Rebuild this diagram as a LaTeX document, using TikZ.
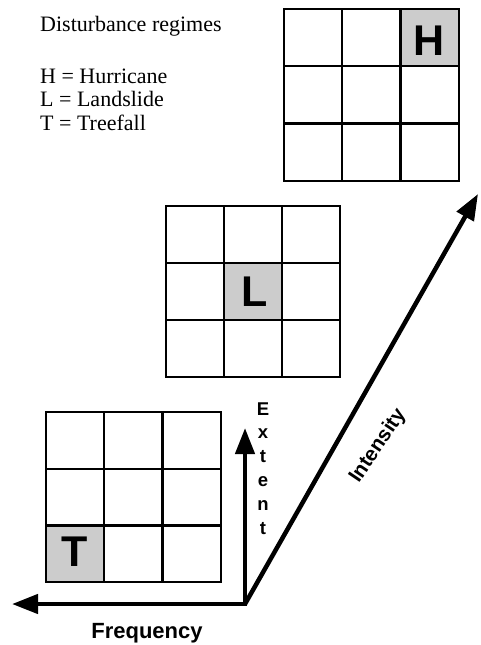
\documentclass[tikz,border=0pt]{standalone}
\usepackage{fontspec}
\setmainfont{Liberation Serif}
\newfontfamily\lsans{Liberation Sans}
\usetikzlibrary{arrows.meta}
\newcommand\dgridcells[4]{%
  \draw[gridline] (#1,#2) rectangle ({#1+3*#3},{#2+3*#4});
  \foreach \i in {1,2} {
    \draw[gridline] ({#1+\i*#3},#2) -- ({#1+\i*#3},{#2+3*#4});
    \draw[gridline] (#1,{#2+\i*#4}) -- ({#1+3*#3},{#2+\i*#4});
  }}
\begin{document}
\begin{tikzpicture}[x=1pt,y=-1pt,
  gridline/.style={line width=2.3pt},
  shadecell/.style={fill=black!20},
  cellletter/.style={font=\lsans\bfseries\fontsize{43}{43}\selectfont, inner sep=0},
  axis/.style={line width=4.5pt, -{Triangle[length=26pt,width=19pt]}},
  axislabel/.style={font=\lsans\bfseries\fontsize{22}{22}\selectfont, inner sep=0},
  extletter/.style={font=\lsans\bfseries\fontsize{18.5}{18.5}\selectfont, inner sep=0, anchor=base},
  legend/.style={font=\fontsize{22}{22}\selectfont, anchor=base west, inner sep=0}]
\useasboundingbox (0,0) rectangle (481,645);
% H grid
\fill[shadecell] (400.6,9) rectangle (459,66.3);
\dgridcells{284}{9}{58.3}{57.3}
\node[cellletter] (H) at (429,41) {H};
% L grid
\fill[shadecell] (224,263) rectangle (282,320);
\dgridcells{166}{206}{58}{57}
\node[cellletter] (L) at (254.5,292) {L};
% T grid
\fill[shadecell] (46,525.4) rectangle (104.3,582);
\dgridcells{46}{412}{58.3}{56.7}
\node[cellletter] (T) at (74.5,552) {T};
% axes
\coordinate (O) at (245,604);
\coordinate (F) at (12,604);
\coordinate (E) at (245,428);
\coordinate (I) at (478,194);
\draw[axis] (O) -- (F);
\draw[axis] (O) -- (E);
\draw[axis] (O) -- (I);
\fill (242.75,601.75) rectangle (247.25,606.25);
\node[axislabel, anchor=base] (freq) at (147,638) {Frequency};
\foreach \ch [count=\k from 0] in {E,x,t,e,n,t}
  \node[extletter] (ext\k) at (263,{415+23.8*\k}) {\ch};
\node[axislabel, font=\lsans\bfseries\fontsize{20.5}{20.5}\selectfont, rotate=56] (intl) at (378,446) {Intensity};
% legend
\node[legend] (title) at (40,31) {Disturbance regimes};
\node[legend] (lh) at (40,83) {H = Hurricane};
\node[legend] (ll) at (40,106) {L = Landslide};
\node[legend] (lt) at (40,130) {T = Treefall};
\end{tikzpicture}
\end{document}
